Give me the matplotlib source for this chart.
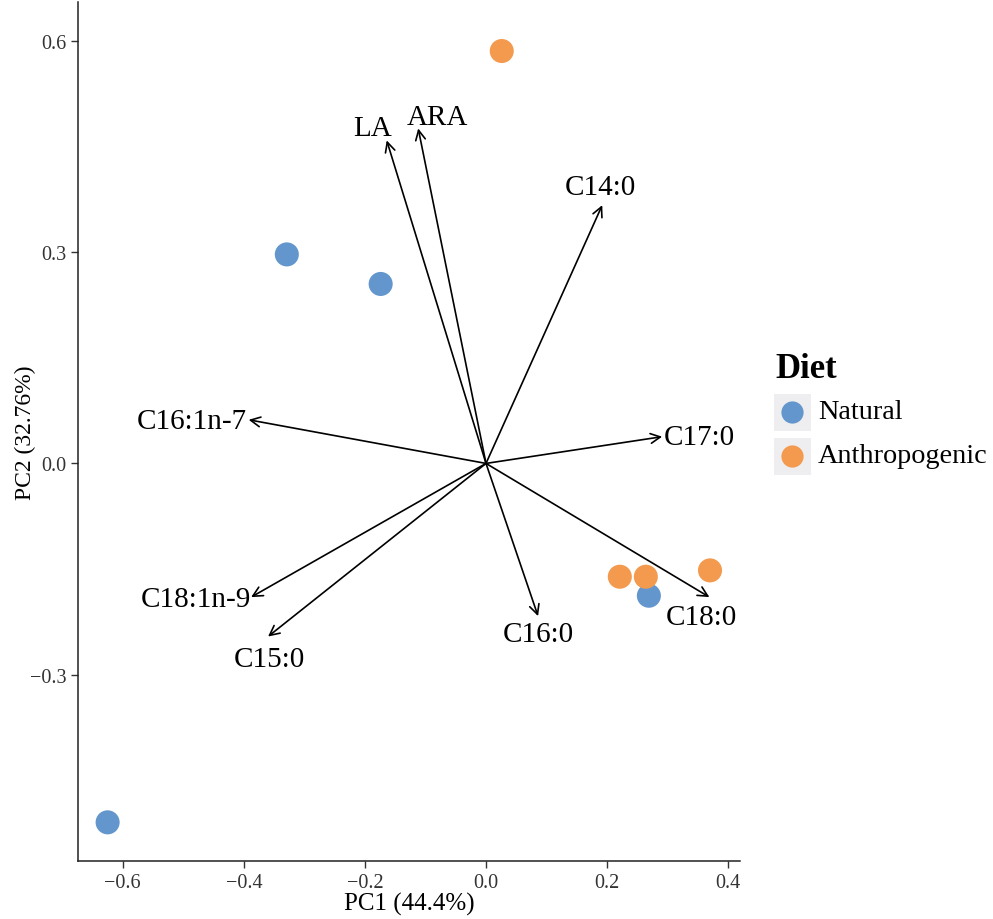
import matplotlib.pyplot as plt
from matplotlib.lines import Line2D
from matplotlib.patches import Rectangle

plt.rcParams['font.family'] = ['Liberation Serif', 'DejaVu Serif']

# sample scores on the first two components
natural_pc1 = [-0.329, -0.174, 0.269, -0.625]
natural_pc2 = [0.297, 0.255, -0.188, -0.510]
anthro_pc1 = [0.026, 0.221, 0.264, 0.370]
anthro_pc2 = [0.586, -0.161, -0.161, -0.152]

# fatty acid loadings (arrow tips)
fatty_acids = ['LA', 'ARA', 'C14:0', 'C16:1n-7', 'C17:0',
               'C18:1n-9', 'C15:0', 'C16:0', 'C18:0']
load_pc1 = [-0.164, -0.112, 0.192, -0.392, 0.291, -0.388, -0.360, 0.086, 0.369]
load_pc2 = [0.459, 0.476, 0.367, 0.062, 0.038, -0.190, -0.246, -0.217, -0.190]

# label offsets from arrow tips, in points
label_offsets = [(-10, 9), (14, 8), (-1, 13), (-41, -1), (27, 0),
                 (-40, -1), (1, -16), (0, -13), (-6, -14)]

blue = '#6396cc'
orange = '#f39a4f'

fig = plt.figure(figsize=(9.93, 9.2), dpi=100)
ax = fig.add_axes([0.0785, 0.063, 0.667, 0.934])

ax.scatter(natural_pc1, natural_pc2, s=300, color=blue, edgecolors='none', zorder=2)
ax.scatter(anthro_pc1, anthro_pc2, s=300, color=orange, edgecolors='none', zorder=2)

for name, x, y, off in zip(fatty_acids, load_pc1, load_pc2, label_offsets):
    ax.annotate('', xy=(x, y), xytext=(0, 0),
                arrowprops=dict(arrowstyle='->,head_length=0.7,head_width=0.35',
                                lw=1.2, color='black', shrinkA=0, shrinkB=0),
                zorder=3)
    ax.annotate(name, xy=(x, y), xytext=off, textcoords='offset points',
                ha='center', va='center', fontsize=21, color='black')

ax.set_xlim(-0.674, 0.42)
ax.set_ylim(-0.565, 0.656)
ax.set_xticks([-0.6, -0.4, -0.2, 0.0, 0.2, 0.4])
ax.set_yticks([-0.3, 0.0, 0.3, 0.6])
ax.xaxis.set_major_formatter('{x:.1f}')
ax.yaxis.set_major_formatter('{x:.1f}')

for side in ('top', 'right'):
    ax.spines[side].set_visible(False)
for side in ('left', 'bottom'):
    ax.spines[side].set_linewidth(1.1)
    ax.spines[side].set_color('#222222')
ax.tick_params(direction='out', length=5, width=1.0, color='#333333',
               labelsize=14.5, labelcolor='#333333')

ax.set_xlabel('PC1 (44.4%)', fontsize=18, labelpad=0)
ax.set_ylabel('PC2 (32.76%)', fontsize=17)
ax.yaxis.set_label_coords(-0.064, 0.5)

# legend drawn in figure pixels
W, H = 993, 920
fig.text(775 / W, 1 - 369 / H, 'Diet', fontsize=25, fontweight='bold',
         ha='left', va='center')
for i, (lab, col) in enumerate([('Natural', blue), ('Anthropogenic', orange)]):
    cy = 413 + i * 44
    fig.add_artist(Rectangle((774 / W, 1 - (cy + 18.5) / H), 37 / W, 37 / H,
                             transform=fig.transFigure, facecolor='#eeeef0',
                             edgecolor='none'))
    fig.add_artist(Line2D([792 / W], [1 - cy / H], marker='o', markersize=16,
                          color=col, markeredgewidth=0, transform=fig.transFigure))
    fig.text(818 / W, 1 - cy / H, lab, fontsize=20.3, ha='left', va='center')

fig.savefig('out.png', dpi=100, facecolor='white')
